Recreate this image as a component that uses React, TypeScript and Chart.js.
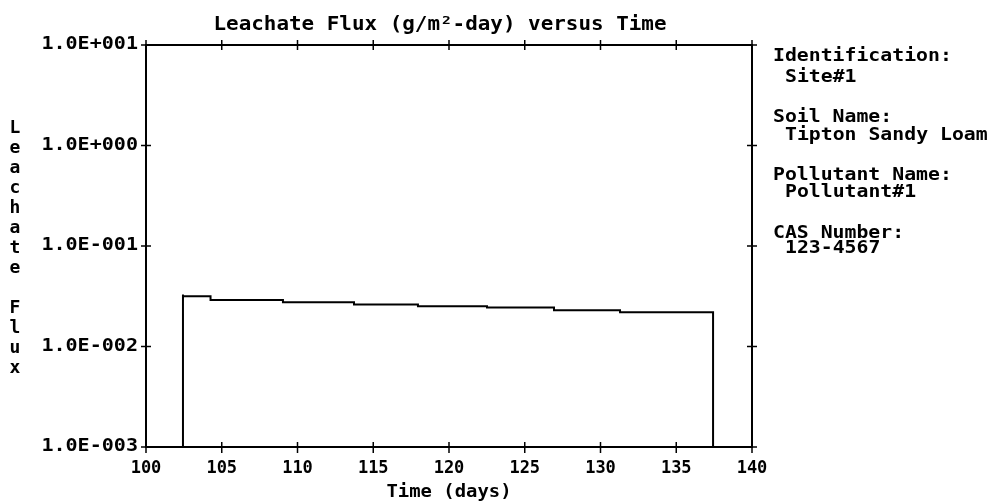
import React, { useEffect, useRef } from "react";
import { Chart, registerables } from "chart.js";

Chart.register(...registerables);

// ---- data ----
const days: number[] = [100, 102.44, 102.44, 104.26, 109.04, 113.73, 117.95, 122.51, 126.93, 131.29, 135.51, 137.43, 137.43, 140];
const flux: number[] = [0.001, 0.001, 0.033, 0.0316, 0.0291, 0.0275, 0.0262, 0.0251, 0.0245, 0.0229, 0.0219, 0.0219, 0.001, 0.001];

const xTicks: number[] = [100, 105, 110, 115, 120, 125, 130, 135, 140];
const xTickLabels: string[] = ["100", "105", "110", "115", "120", "125", "130", "135", "140"];
const yTicks: number[] = [10, 1, 0.1, 0.01, 0.001];
const yTickLabels: string[] = ["1.0E+001", "1.0E+000", "1.0E-001", "1.0E-002", "1.0E-003"];

const titleText = "Leachate Flux (g/m\u00B2-day) versus Time";
const xTitle = "Time (days)";
const yTitle = "Leachate Flux";
const infoLines: { text: string; indent: boolean }[] = [
  { text: "Identification:", indent: false },
  { text: "Site#1", indent: true },
  { text: "Soil Name:", indent: false },
  { text: "Tipton Sandy Loam", indent: true },
  { text: "Pollutant Name:", indent: false },
  { text: "Pollutant#1", indent: true },
  { text: "CAS Number:", indent: false },
  { text: "123-4567", indent: true },
];
const infoY: number[] = [56, 77, 117, 135, 175, 192, 233, 248];

const FONT = '"DejaVu Sans Mono", "Liberation Mono", monospace';

function txt(ctx: CanvasRenderingContext2D, s: string, x: number, y: number, size: number, align: CanvasTextAlign, hs: number) {
  ctx.save();
  ctx.font = `bold ${size}px ${FONT}`;
  ctx.textAlign = align;
  ctx.textBaseline = "middle";
  ctx.fillStyle = "#000";
  ctx.translate(x, y);
  ctx.scale(hs, 1);
  ctx.fillText(s, 0, 0);
  ctx.restore();
}

const overlay = {
  id: "overlay",
  afterDraw(chart: any) {
    const ctx: CanvasRenderingContext2D = chart.ctx;
    const a = chart.chartArea;
    const xs = chart.scales.x;
    const ys = chart.scales.y;
    ctx.save();
    ctx.strokeStyle = "#000";
    ctx.lineWidth = 2;
    ctx.strokeRect(a.left, a.top, a.right - a.left, a.bottom - a.top);
    ctx.lineWidth = 1.5;
    const ln = (x1: number, y1: number, x2: number, y2: number) => {
      ctx.beginPath();
      ctx.moveTo(x1, y1);
      ctx.lineTo(x2, y2);
      ctx.stroke();
    };
    xTicks.forEach((v, i) => {
      const px = xs.getPixelForValue(v);
      ln(px, a.bottom - 5, px, a.bottom + 6);
      ln(px, a.top - 5, px, a.top + 5);
      txt(ctx, xTickLabels[i], px, a.bottom + 22, 17, "center", 1.0);
    });
    yTicks.forEach((v, i) => {
      const py = ys.getPixelForValue(v);
      ln(a.left - 5, py, a.left + 5, py);
      ln(a.right - 5, py, a.right + 5, py);
      txt(ctx, yTickLabels[i], a.left - 8, py, 17, "right", 1.18);
    });
    // titles
    txt(ctx, titleText, 440, 25, 19, "center", 1.1);
    txt(ctx, xTitle, (a.left + a.right) / 2, 492, 18, "center", 1.05);
    yTitle.split("").forEach((ch, i) => {
      if (ch !== " ") txt(ctx, ch, 15, 128 + i * 20, 18, "center", 1.0);
    });
    infoLines.forEach((l, i) => {
      txt(ctx, l.text, l.indent ? 785 : 773, infoY[i], 18, "left", 1.1);
    });
    ctx.restore();
  },
};

export default function App() {
  const ref = useRef<HTMLCanvasElement | null>(null);
  useEffect(() => {
    if (!ref.current) return;
    const chart = new Chart(ref.current, {
      type: "line",
      data: {
        datasets: [
          {
            data: days.map((d, i) => ({ x: d, y: flux[i] })),
            borderColor: "#000",
            borderWidth: 2,
            pointRadius: 0,
            fill: false,
            tension: 0,
            stepped: "after",
          },
        ],
      },
      options: {
        animation: false,
        responsive: false,
        devicePixelRatio: 1,
        layout: { padding: { left: 146, right: 250, top: 45, bottom: 57 } },
        plugins: { legend: { display: false }, tooltip: { enabled: false }, title: { display: false } },
        scales: {
          x: { type: "linear", min: 100, max: 140, display: false },
          y: { type: "logarithmic", min: 0.001, max: 10, display: false },
        },
      },
      plugins: [overlay],
    });
    return () => chart.destroy();
  }, []);
  return (
    <div style={{ position: "fixed", left: 0, top: 0, width: 1002, height: 504, background: "#fff" }}>
      <canvas ref={ref} width={1002} height={504} />
    </div>
  );
}
